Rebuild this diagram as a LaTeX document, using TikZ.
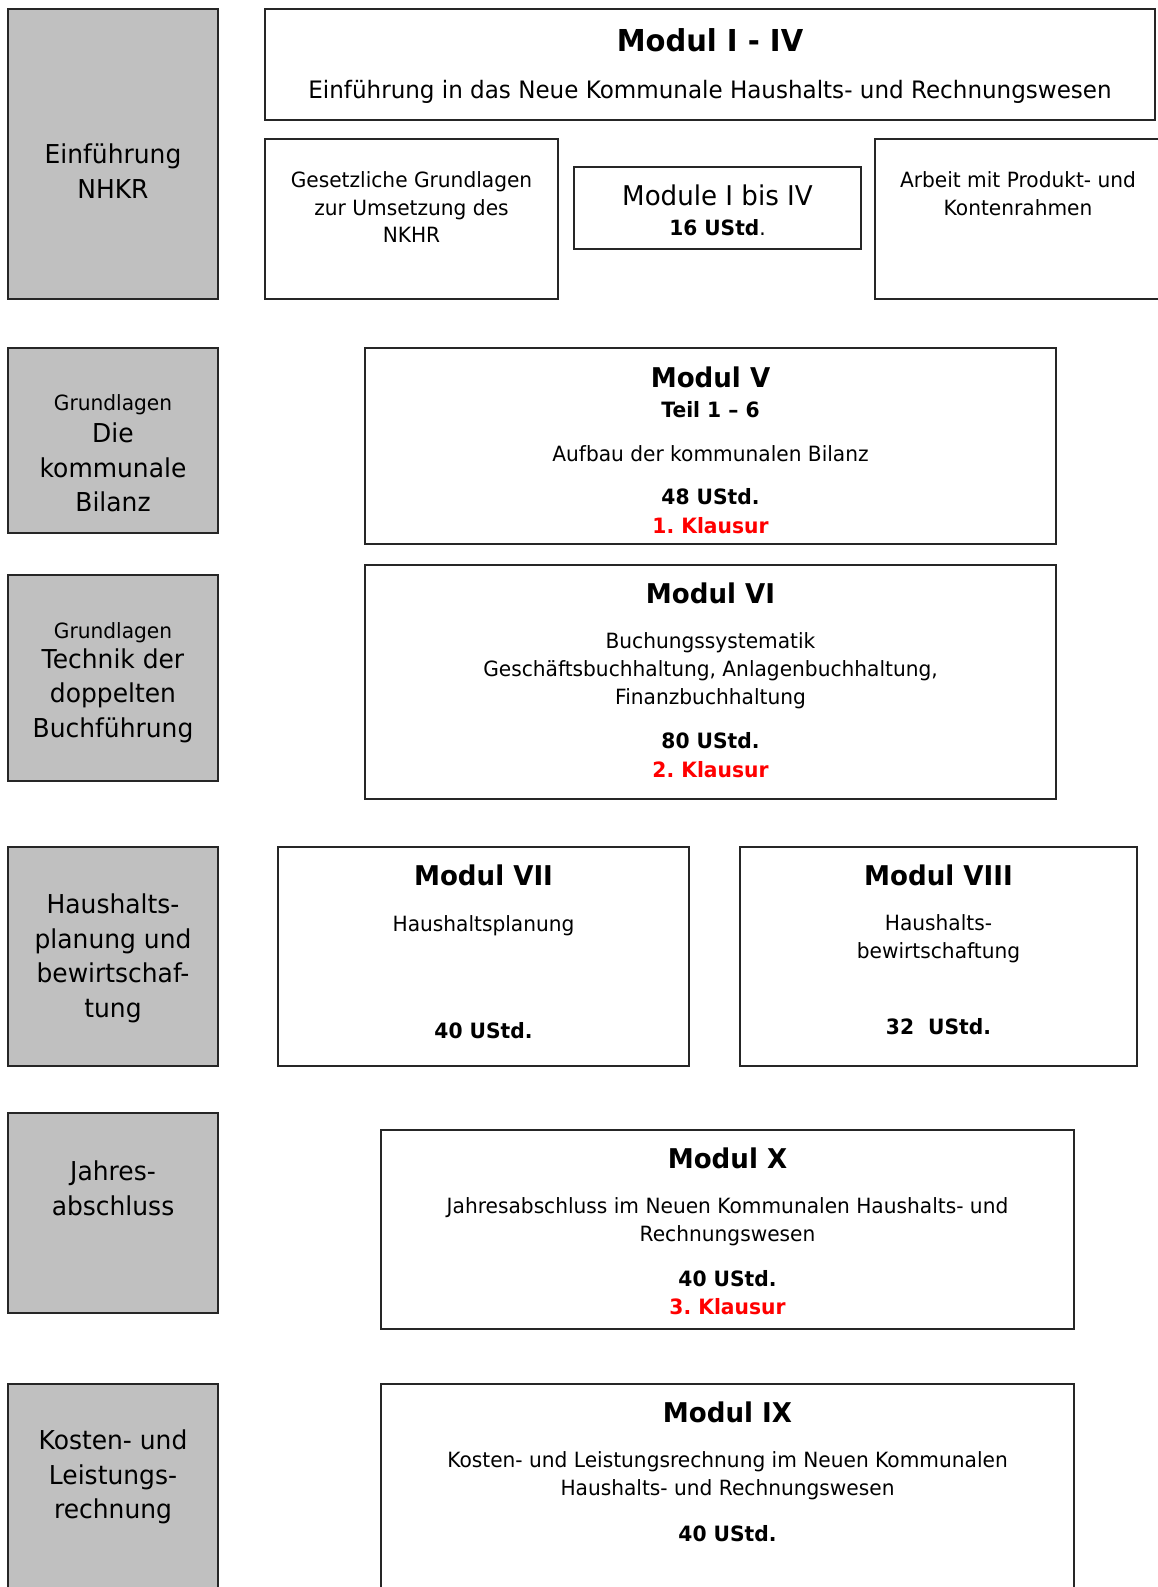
\documentclass[tikz,border=0pt]{standalone}
\usepackage{fontspec}
\setmainfont{DejaVu Sans}[FakeStretch=0.96]
\frenchspacing

\definecolor{lanegray}{RGB}{192,192,192}
\definecolor{klausurred}{RGB}{255,0,0}

\newcommand{\flane}{\fontsize{26}{34.5}\selectfont}
\newcommand{\flanesmall}{\fontsize{21}{28}\selectfont}
\newcommand{\ftitle}{\fontsize{27.2}{33}\selectfont\bfseries}
\newcommand{\ftitlebig}{\fontsize{30.2}{36}\selectfont\bfseries}
\newcommand{\fsub}{\fontsize{24}{30}\selectfont}
\newcommand{\fmod}{\fontsize{27.2}{33}\selectfont}
\newcommand{\ftext}{\fontsize{21}{27.8}\selectfont}
\newcommand{\fhours}{\fontsize{21.1}{28}\selectfont\bfseries}

\tikzset{
  lanebox/.style={draw=black!85, line width=1.3pt, fill=lanegray},
  modbox/.style={draw=black!85, line width=1.3pt, fill=white},
  oneline/.style={anchor=mid, yshift=-6pt},
  titleline/.style={anchor=mid, yshift=-7pt},
}

\begin{document}
\begin{tikzpicture}[x=1pt,y=-1pt]
  \useasboundingbox (0,0) rectangle (1158,1587);
  \clip (0,0) rectangle (1158,1587);

  % left column
  \draw[lanebox] (8,9)    rectangle (218,299);
  \draw[lanebox] (8,348)  rectangle (218,533);
  \draw[lanebox] (8,575)  rectangle (218,781);
  \draw[lanebox] (8,847)  rectangle (218,1066);
  \draw[lanebox] (8,1113) rectangle (218,1313);
  \draw[lanebox] (8,1384) rectangle (218,1600);

  % module boxes
  \draw[modbox] (265,9)    rectangle (1155,120);
  \draw[modbox] (265,139)  rectangle (558,299);
  \draw[modbox] (574,167)  rectangle (861,249);
  \draw[modbox] (875,139)  rectangle (1161,299);
  \draw[modbox] (365,348)  rectangle (1056,544);
  \draw[modbox] (365,565)  rectangle (1056,799);
  \draw[modbox] (278,847)  rectangle (689,1066);
  \draw[modbox] (740,847)  rectangle (1137,1066);
  \draw[modbox] (381,1130) rectangle (1074,1329);
  \draw[modbox] (381,1384) rectangle (1074,1600);

  \begin{scope}[every node/.style={align=center, inner sep=0pt}]

    % left column texts
    \node[font=\flane] (einf) at (113,171) {Einführung\\NHKR};
    \node[font=\flanesmall, oneline] (grA) at (113,401.8) {Grundlagen};
    \node[font=\flane] (bilanz) at (113,467.6) {Die\\kommunale\\Bilanz};
    \node[font=\flanesmall, oneline] (grB) at (113,629.6) {Grundlagen};
    \node[font=\flane] (technik) at (113,695.5) {Technik der\\doppelten\\Buchführung};
    \node[font=\flane] (haushalt) at (113,958.5) {Haushalts-\\planung und\\bewirtschaf-\\tung};
    \node[font=\flane] (jahres) at (113,1188.3) {Jahres-\\abschluss};
    \node[font=\flane] (kosten) at (113,1477) {Kosten- und\\Leistungs-\\rechnung};

    % Modul I - IV
    \node[font=\ftitlebig, titleline, yshift=-2pt] (m14) at (710,39.5) {Modul I - IV};
    \node[font=\fsub, oneline] (m14txt) at (710,90) {Einführung in das Neue Kommunale Haushalts- und Rechnungswesen};
    \node[font=\ftext] (gesetz) at (411.5,207.2) {Gesetzliche Grundlagen\\zur Umsetzung des\\NKHR};
    \node[font=\fmod, titleline] (m14b) at (717.5,195.4) {Module I bis IV};
    \node[font=\ftext, oneline] (m14h) at (717.5,226.7) {\textbf{16 UStd}.};
    \node[font=\ftext] (arbeit) at (1018,193.4) {Arbeit mit Produkt- und\\Kontenrahmen};

    % Modul V
    \node[font=\ftitle, titleline] (m5) at (710.5,377.6) {Modul V};
    \node[font=\fhours, oneline] (m5teil) at (710.5,409) {Teil 1 – 6};
    \node[font=\ftext, oneline] (m5txt) at (710.5,452.5) {Aufbau der kommunalen Bilanz};
    \node[font=\fhours, oneline] (m5h) at (710.5,496) {48 UStd.};
    \node[font=\fhours, text=klausurred, oneline] (m5k) at (710.5,524.3) {1. Klausur};

    % Modul VI
    \node[font=\ftitle, titleline] (m6) at (710.5,594.2) {Modul VI};
    \node[font=\ftext] (m6txt) at (710.5,670.7) {Buchungssystematik\\Geschäftsbuchhaltung, Anlagenbuchhaltung,\\Finanzbuchhaltung};
    \node[font=\fhours, oneline] (m6h) at (710.5,740) {80 UStd.};
    \node[font=\fhours, text=klausurred, oneline] (m6k) at (710.5,768.3) {2. Klausur};

    % Modul VII
    \node[font=\ftitle, titleline] (m7) at (483.5,875.6) {Modul VII};
    \node[font=\ftext, oneline] (m7txt) at (483.5,923.1) {Haushaltsplanung};
    \node[font=\fhours, oneline] (m7h) at (483.5,1029.4) {40 UStd.};

    % Modul VIII
    \node[font=\ftitle, titleline] (m8) at (938.5,875.6) {Modul VIII};
    \node[font=\ftext] (m8txt) at (938.5,938.8) {Haushalts-\\bewirtschaftung};
    \node[font=\fhours, oneline] (m8h) at (938.5,1025.4) {32~~UStd.};

    % Modul X
    \node[font=\ftitle, titleline] (m10) at (727.5,1159) {Modul X};
    \node[font=\ftext] (m10txt) at (727.5,1221.7) {Jahresabschluss im Neuen Kommunalen Haushalts- und\\Rechnungswesen};
    \node[font=\fhours, oneline] (m10h) at (727.5,1277.4) {40 UStd.};
    \node[font=\fhours, text=klausurred, oneline] (m10k) at (727.5,1305.7) {3. Klausur};

    % Modul IX
    \node[font=\ftitle, titleline] (m9) at (727.5,1413) {Modul IX};
    \node[font=\ftext] (m9txt) at (727.5,1475.8) {Kosten- und Leistungsrechnung im Neuen Kommunalen\\Haushalts- und Rechnungswesen};
    \node[font=\fhours, oneline] (m9h) at (727.5,1532.5) {40 UStd.};

  \end{scope}
\end{tikzpicture}
\end{document}
